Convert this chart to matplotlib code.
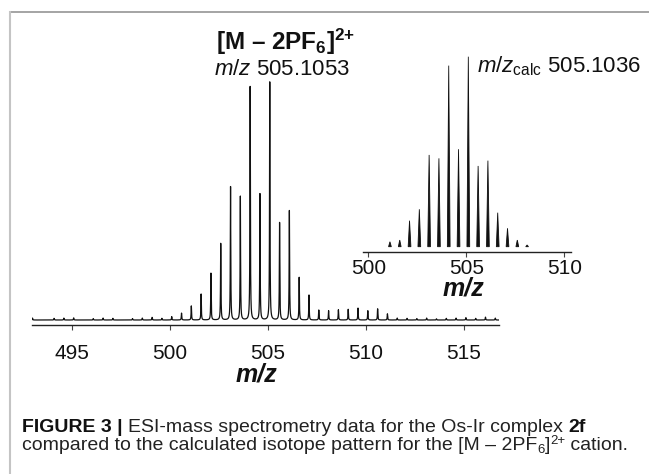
"""ESI-MS spectrum of the Os-Ir complex 2f with the calculated isotope pattern as inset."""
import matplotlib
matplotlib.use("Agg")
import matplotlib.pyplot as plt
from matplotlib.lines import Line2D
import numpy as np

W, H = 649, 474

# measured spectrum: peak centres (m/z) and relative intensities (%)
MAIN_MZ = [493.0, 494.1, 494.6, 495.1, 496.1, 496.6, 497.1, 498.1, 498.6, 499.1,
           499.6, 500.1, 500.6, 501.1, 501.6, 502.1, 502.6, 503.1, 503.6, 504.1,
           504.6, 505.1, 505.6, 506.1, 506.6, 507.1, 507.6, 508.1, 508.6, 509.1,
           509.6, 510.1, 510.6, 511.1, 511.6, 512.1, 512.6, 513.1, 513.6, 514.1,
           514.6, 515.1, 515.6, 516.1, 516.6]
MAIN_INT = [0.8, 0.7, 0.8, 0.9, 0.6, 0.8, 0.7, 0.6, 0.8, 1.1,
            0.7, 1.4, 2.9, 5.9, 10.9, 19.7, 32.2, 56.0, 52.0, 98.3,
            53.0, 100.0, 41.0, 46.0, 17.9, 10.5, 4.2, 3.9, 4.3, 4.5,
            5.0, 3.9, 4.7, 2.6, 0.8, 0.7, 0.6, 0.8, 0.5, 0.7,
            0.8, 1.0, 0.7, 1.2, 0.8]

# calculated isotope pattern
CALC_MZ = [501.1, 501.6, 502.1, 502.6, 503.1, 503.6, 504.1, 504.6, 505.1, 505.6,
           506.1, 506.6, 507.1, 507.6, 508.1]
CALC_INT = [2.6, 3.5, 13.7, 19.7, 48.3, 46.5, 95.3, 51.3, 100.0, 42.5,
            45.3, 17.9, 9.7, 3.5, 0.9]

MAIN_TICKS = [495, 500, 505, 510, 515]
CALC_TICKS = [500, 505, 510]

plt.rcParams["font.family"] = ["Liberation Sans", "DejaVu Sans"]
plt.rcParams["mathtext.fontset"] = "custom"
plt.rcParams["mathtext.rm"] = "Liberation Sans"
plt.rcParams["mathtext.it"] = "Liberation Sans:italic"
plt.rcParams["mathtext.bf"] = "Liberation Sans:bold"

INK = "#111111"


def px_axes(fig, left, top, right, bottom):
    return fig.add_axes([left / W, 1 - bottom / H, (right - left) / W, (bottom - top) / H])


def style_axis(ax, ticks, pad):
    for side in ("left", "right", "top"):
        ax.spines[side].set_visible(False)
    ax.spines["bottom"].set_color("#222222")
    ax.spines["bottom"].set_linewidth(1.0)
    ax.set_yticks([])
    ax.set_xticks(ticks)
    ax.tick_params(axis="x", direction="out", length=3.5, width=0.8, color="#444444",
                   labelsize=15, pad=pad, labelcolor=INK)
    ax.patch.set_alpha(0)


def put_runs(fig, x, y, runs):
    """Write text pieces one after another, x/y in pixels from the top left."""
    renderer = fig.canvas.get_renderer()
    for text, kw, dy in runs:
        t = fig.text(x / W, 1 - (y + dy) / H, text, ha="left", va="baseline", **kw)
        x += t.get_window_extent(renderer).width


fig = plt.figure(figsize=(W / 100, H / 100), dpi=100)

# main spectrum, peaks broadened to a profile
ax = px_axes(fig, 31.7, 60, 499, 325)
grid = np.linspace(492.9, 516.8, 16000)
gamma = 0.013
profile = np.zeros_like(grid)
for mz, inten in zip(MAIN_MZ, MAIN_INT):
    profile += inten * gamma ** 2 / ((grid - mz) ** 2 + gamma ** 2)
ax.plot(grid, profile, color=INK, lw=0.9)
ax.set_xlim(492.96, 516.79)
ax.set_ylim(-5 / 2.38, 260 / 2.38)
style_axis(ax, MAIN_TICKS, 10)

# inset with calculated pattern, drawn as narrow triangles
ins = px_axes(fig, 362.7, 40, 571, 251.7)
half = 0.07
for mz, inten in zip(CALC_MZ, CALC_INT):
    ins.fill([mz - half, mz, mz + half], [0, inten, 0], color=INK, lw=0.6)
ins.set_xlim(499.71, 510.34)
ins.set_ylim(-5 / 1.9, 206.7 / 1.9)
style_axis(ins, CALC_TICKS, 1.5)

# labels
lab = dict(fontsize=18, fontweight="bold", fontstyle="italic", color=INK, ha="center", va="baseline")
fig.text(256 / W, 1 - 381 / H, "m/z", **lab)
fig.text(463 / W, 1 - 296 / H, "m/z", **lab)

fig.text(286 / W, 1 - 50 / H, r"[M – 2PF$_\mathbf{6}$]$^{\mathbf{2{+}}}$", fontsize=17.5,
         fontweight="bold", color=INK, ha="center", va="baseline")
fig.text(282 / W, 1 - 75 / H, r"$\mathit{m/z}$ 505.1053", fontsize=16,
         color=INK, ha="center", va="baseline")
fig.text(476.7 / W, 1 - 72.7 / H, r"$\mathit{m/z}_{\mathrm{calc}}$ 505.1036", fontsize=16,
         color=INK, ha="left", va="baseline")

# page frame of the figure panel
fig.add_artist(Line2D([10 / W, 1], [1 - 12 / H] * 2, color="#8c8c8c", lw=1.1))
fig.add_artist(Line2D([10 / W] * 2, [0, 1 - 12 / H], color="#c4c4c4", lw=1.5))

# caption
reg = dict(fontsize=14, color="#222222")
bold = dict(fontsize=14, color="#111111", fontweight="bold")
small = dict(fontsize=9.5, color="#222222")
put_runs(fig, 22, 432, [("FIGURE 3 | ", bold, 0),
                        ("ESI-mass spectrometry data for the Os-Ir complex ", reg, 0),
                        ("2f", bold, 0)])
put_runs(fig, 22, 450, [("compared to the calculated isotope pattern for the [M – 2PF", reg, 0),
                        ("6", small, 3),
                        ("]", reg, 0),
                        ("2+", small, -6),
                        (" cation.", reg, 0)])

fig.savefig("out.png", dpi=100)
